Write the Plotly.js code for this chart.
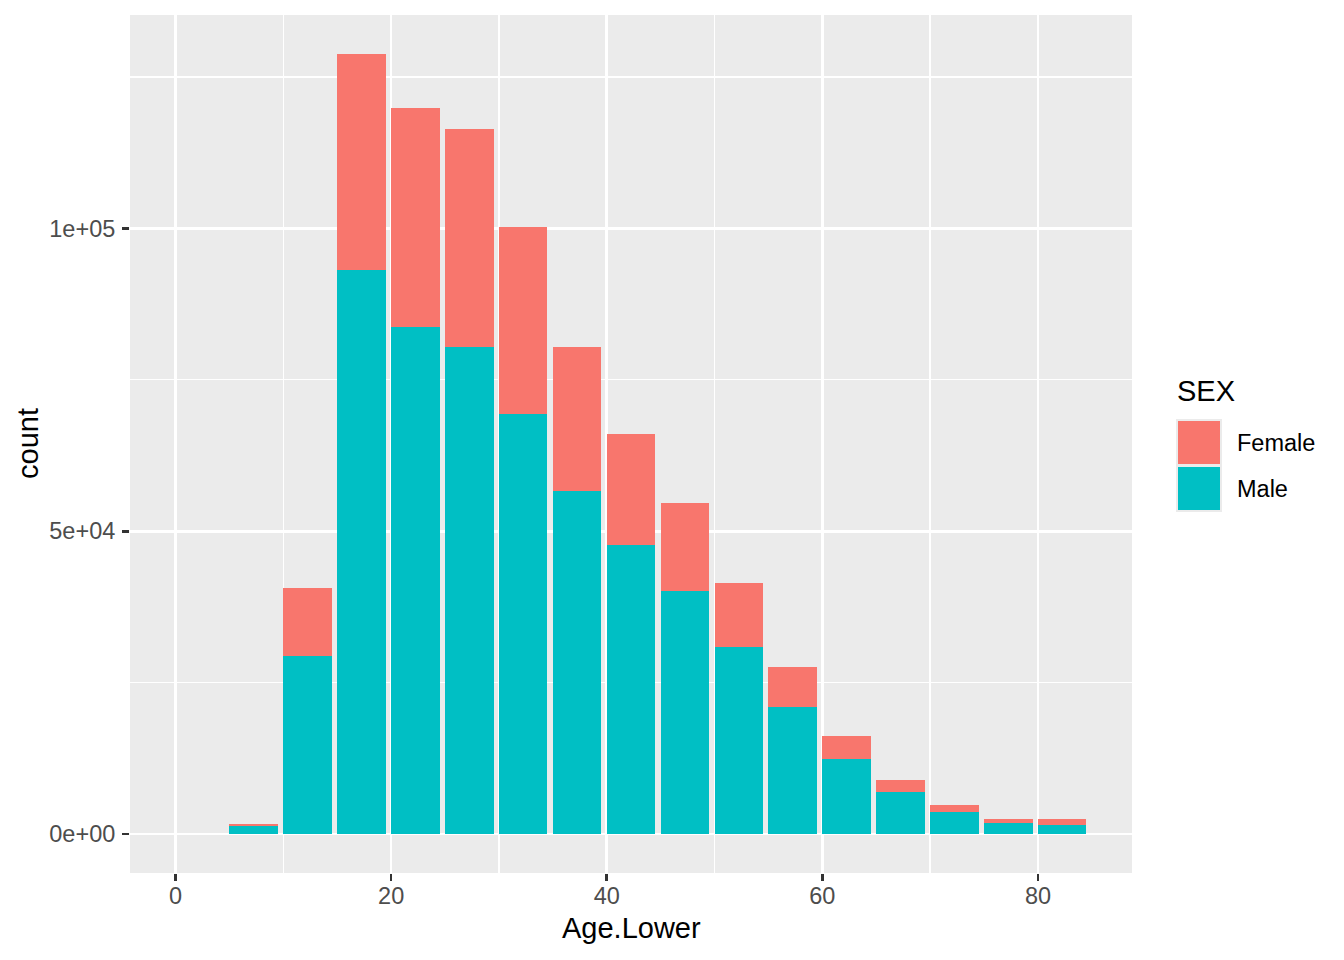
<!DOCTYPE html>
<html>
<head>
<meta charset="utf-8">
<script src="https://cdn.plot.ly/plotly-3.0.1.min.js"></script>
<style>html,body{margin:0;padding:0;background:#fff;}#chart{width:1344px;height:960px;}</style>
</head>
<body>
<div id="chart"></div>
<script>
// Data
const ageLower = [5, 10, 15, 20, 25, 30, 35, 40, 45, 50, 55, 60, 65, 70, 75, 80];
const maleCount = [1240, 29450, 93150, 83750, 80450, 69400, 56700, 47650, 40200, 30800, 21050, 12450, 7000, 3700, 1850, 1550];
const femaleCount = [330, 11200, 35650, 36100, 35950, 30850, 23750, 18450, 14500, 10700, 6450, 3800, 2000, 1150, 700, 850];
const sexLevels = ["Female", "Male"];
const sexColors = ["#F8766D", "#00BFC4"];
const xTickVals = [0, 20, 40, 60, 80];
const yTickVals = [0, 50000, 100000];
const yTickText = ["0e+00", "5e+04", "1e+05"];

const W = 1344, H = 960;
const M = {l: 130, r: 212, t: 15, b: 87};
const pw = W - M.l - M.r, ph = H - M.t - M.b;
const px = x => (x - M.l) / pw;
const py = y => (H - M.b - y) / ph;

const FONT = "Liberation Sans, Arial, Helvetica, sans-serif";
const barWidth = 4.5;

const totals = ageLower.map((_, i) => maleCount[i] + femaleCount[i]);
const ymax = Math.max(...totals);
const xmin = 0, xmax = 84.5;

const traces = [
  {type: "bar", name: "Male", x: ageLower, y: maleCount, width: barWidth, offset: 0,
   marker: {color: sexColors[1], line: {width: 0}}, hoverinfo: "x+y+name"},
  {type: "bar", name: "Female", x: ageLower, y: femaleCount, width: barWidth, offset: 0,
   marker: {color: sexColors[0], line: {width: 0}}, hoverinfo: "x+y+name"}
];

const axisCommon = {
  showline: false, zeroline: false,
  gridcolor: "#FFFFFF", gridwidth: 2.6,
  ticks: "outside", ticklen: 7, tickwidth: 2.6, tickcolor: "#333333",
  tickfont: {family: FONT, size: 23.5, color: "#4D4D4D"},
  fixedrange: true
};

const layout = {
  width: W, height: H,
  margin: M,
  paper_bgcolor: "#FFFFFF",
  plot_bgcolor: "#EBEBEB",
  barmode: "stack",
  showlegend: false,
  xaxis: Object.assign({}, axisCommon, {
    range: [xmin - 0.05 * (xmax - xmin), xmax + 0.05 * (xmax - xmin)],
    tickmode: "array", tickvals: xTickVals, ticktext: xTickVals.map(String),
    ticklabelstandoff: -5,
    minor: {tickmode: "linear", tick0: 10, dtick: 20, showgrid: true, gridcolor: "#FFFFFF", gridwidth: 1.3, ticks: ""}
  }),
  yaxis: Object.assign({}, axisCommon, {
    range: [-0.05 * ymax, 1.05 * ymax],
    tickmode: "array", tickvals: yTickVals, ticktext: yTickText,
    ticklabelstandoff: 2,
    minor: {tickmode: "linear", tick0: 25000, dtick: 50000, showgrid: true, gridcolor: "#FFFFFF", gridwidth: 1.3, ticks: ""}
  }),
  annotations: [
    {text: "Age.Lower", xref: "paper", yref: "paper", x: 0.5, y: 0, xanchor: "center", yanchor: "middle",
     yshift: -55, showarrow: false, font: {family: FONT, size: 29, color: "#000000"}},
    {text: "count", xref: "paper", yref: "paper", x: 0, y: 0.5, xanchor: "center", yanchor: "middle",
     xshift: -102, textangle: -90, showarrow: false, font: {family: FONT, size: 29, color: "#000000"}},
    {text: "SEX", xref: "paper", yref: "paper", x: px(1175), y: py(391), xanchor: "left", yanchor: "middle",
     showarrow: false, font: {family: FONT, size: 29, color: "#000000"}},
    {text: sexLevels[0], xref: "paper", yref: "paper", x: px(1235), y: py(443), xanchor: "left", yanchor: "middle",
     showarrow: false, font: {family: FONT, size: 23.5, color: "#000000"}},
    {text: sexLevels[1], xref: "paper", yref: "paper", x: px(1235), y: py(489), xanchor: "left", yanchor: "middle",
     showarrow: false, font: {family: FONT, size: 23.5, color: "#000000"}}
  ],
  shapes: [
    {type: "rect", xref: "paper", yref: "paper", x0: px(1176), x1: px(1222), y0: py(419), y1: py(512),
     fillcolor: "#EBEBEB", line: {width: 0}, layer: "above"},
    {type: "rect", xref: "paper", yref: "paper", x0: px(1178), x1: px(1220), y0: py(421), y1: py(464),
     fillcolor: sexColors[0], line: {width: 0}, layer: "above"},
    {type: "rect", xref: "paper", yref: "paper", x0: px(1178), x1: px(1220), y0: py(467), y1: py(510),
     fillcolor: sexColors[1], line: {width: 0}, layer: "above"}
  ]
};

Plotly.newPlot("chart", traces, layout, {displayModeBar: false, staticPlot: true});
</script>
</body>
</html>
